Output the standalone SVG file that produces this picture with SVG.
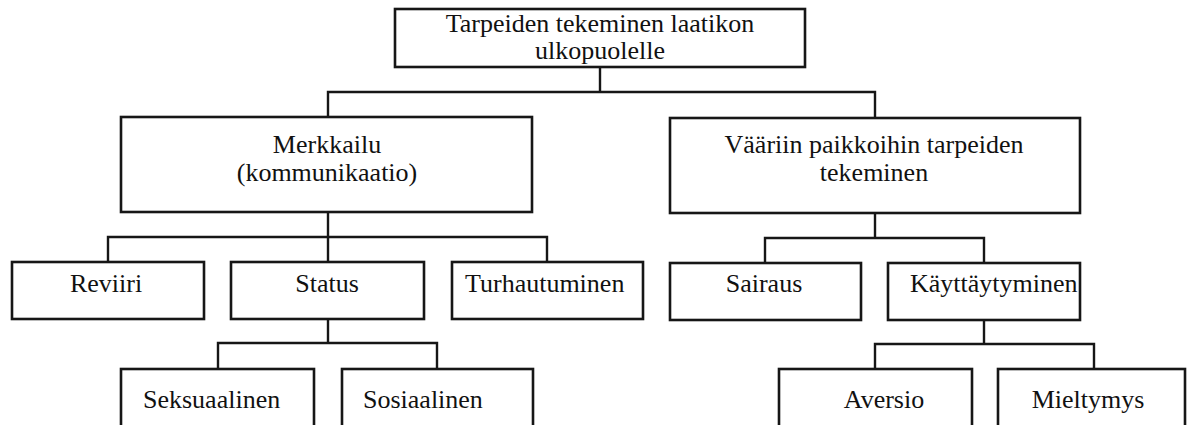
<svg xmlns="http://www.w3.org/2000/svg" width="1187" height="425" viewBox="0 0 1187 425">
<style>
.box{fill:#fff;stroke:#161616;stroke-width:2.6}
.ln{fill:none;stroke:#161616;stroke-width:2.4}
text{font-family:"Liberation Serif","Times New Roman",serif;font-size:26px;fill:#111}
.c{text-anchor:middle}
</style>
<rect width="1187" height="425" fill="#fff"/>
<g id="connectors">
<polyline class="ln" points="600,67 600,92"/>
<polyline class="ln" points="328,117 328,92 875,92 875,118"/>
<polyline class="ln" points="328,212 328,237"/>
<polyline class="ln" points="108,262 108,237 547,237 547,262"/>
<polyline class="ln" points="328,237 328,262"/>
<polyline class="ln" points="328,319 328,343"/>
<polyline class="ln" points="218,369 218,343 437,343 437,369"/>
<polyline class="ln" points="875,213 875,238"/>
<polyline class="ln" points="765,263 765,238 984,238 984,263"/>
<polyline class="ln" points="984,320 984,344"/>
<polyline class="ln" points="875,369 875,344 1094,344 1094,369"/>
</g>
<g id="root">
<rect class="box" x="395" y="9" width="410" height="58"/>
<text class="c" x="600" y="32">Tarpeiden tekeminen laatikon</text>
<text class="c" x="600" y="59">ulkopuolelle</text>
</g>
<g id="merkkailu">
<rect class="box" x="121" y="117" width="411" height="95"/>
<text class="c" x="327" y="153">Merkkailu</text>
<text class="c" x="327" y="181">(kommunikaatio)</text>
</g>
<g id="vaariin">
<rect class="box" x="670" y="118" width="410" height="95"/>
<text class="c" x="874" y="153">Vääriin paikkoihin tarpeiden</text>
<text class="c" x="874" y="181">tekeminen</text>
</g>
<g id="reviiri">
<rect class="box" x="12" y="262" width="192" height="57"/>
<text class="c" x="106" y="292">Reviiri</text>
</g>
<g id="status">
<rect class="box" x="231" y="262" width="193" height="57"/>
<text class="c" x="327" y="292">Status</text>
</g>
<g id="turhautuminen">
<rect class="box" x="452" y="262" width="191" height="57"/>
<text x="465" y="292">Turhautuminen</text>
</g>
<g id="sairaus">
<rect class="box" x="670" y="263" width="191" height="57"/>
<text class="c" x="764" y="292">Sairaus</text>
</g>
<g id="kayttaytyminen">
<rect class="box" x="888" y="263" width="192" height="57"/>
<text x="910" y="292">Käyttäytyminen</text>
</g>
<g id="seksuaalinen">
<rect class="box" x="121" y="369" width="193" height="70"/>
<text x="143" y="408">Seksuaalinen</text>
</g>
<g id="sosiaalinen">
<rect class="box" x="342" y="369" width="191" height="70"/>
<text x="363" y="408">Sosiaalinen</text>
</g>
<g id="aversio">
<rect class="box" x="779" y="369" width="193" height="70"/>
<text class="c" x="884" y="408">Aversio</text>
</g>
<g id="mieltymys">
<rect class="box" x="998" y="369" width="187" height="70"/>
<text class="c" x="1088" y="408">Mieltymys</text>
</g>
</svg>
